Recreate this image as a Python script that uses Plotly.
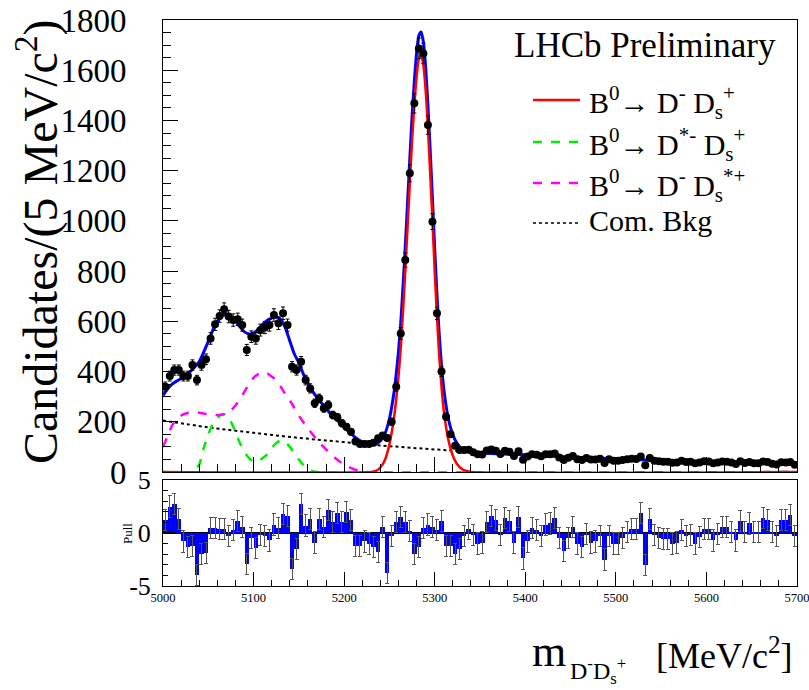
import numpy as np
import plotly.graph_objects as go

# ---------------- data ----------------
mass = np.arange(5002.5, 5700.0, 5.0)  # 5 MeV bin centres

candidates = [
    340, 382, 406, 406, 382, 382, 426, 366, 426, 449,
    532, 588, 621, 648, 619, 605, 608, 585, 486, 539,
    532, 565, 575, 585, 625, 592, 632, 585, 419, 406,
    439, 366, 333, 274, 293, 254, 267, 227, 218, 194,
    180, 160, 121, 112, 112, 112, 117, 134,
    145, 135, 200, 340, 552, 844, 1190, 1468, 1687, 1667,
    1382, 997, 632, 400, 220, 150, 105,
    88, 88, 89, 79, 71, 70, 86, 90, 85, 72,
    85, 81, 64, 83, 49, 62, 71, 69, 63, 71,
    71, 74, 58, 48, 57, 64, 51, 48, 56, 50,
    50, 53, 36, 51, 45, 45, 48, 51, 53, 52,
    62, 27, 56, 45, 43, 41, 41, 37, 38, 45,
    40, 41, 35, 38, 43, 42, 35, 38, 42, 41,
    38, 32, 43, 36, 40, 35, 35, 42, 40, 33,
    30, 39, 38, 40, 29,
]

pulls = [
    1.2, 2.5, 2.7, 1.3, -0.8, -1.3, -1.2, -4.0, -2.0, -1.9,
    0.5, 0.5, 0.4, 0.4, -0.3, 0.3, 1.1, 0.6, -2.9, -0.5,
    -1.4, -0.2, -0.3, -0.7, 0.8, 0.5, 1.8, 1.6, -3.4, -1.5,
    2.7, 0.7, 1.3, -0.9, 1.3, 0.6, 2.2, 1.0, 1.9, 1.0,
    2.0, 1.2, -1.2, -1.2, -0.8, -1.0, -1.3, -1.8, 0.6, -3.8,
    -0.3, 1.0, 1.5, 1.0, 0.2, -2.0, -1.3, 0.5, 0.8, 0.6,
    0.3, 1.1, -1.2, -1.2, -2.0, -1.5, -0.3, 0.4, -0.2, -1.0,
    -0.9, 1.0, 1.6, 1.2, -0.2, 1.4, 1.1, -0.9, 1.5, -2.4,
    -0.8, 0.5, 0.3, -0.3, 0.8, 0.9, 1.4, -0.5, -1.7, -0.5,
    0.6, -1.0, -1.3, -0.1, -0.9, -0.8, -0.3, -2.5, -0.3, -1.0,
    -1.0, -0.5, 0.1, 0.4, 0.4, 1.9, -3.0, 1.3, -0.2, -0.5,
    -0.6, -0.6, -1.0, -0.9, 0.3, -0.3, -0.2, -1.0, -0.4, 0.4,
    0.4, -0.7, -0.1, 0.6, 0.6, 0.1, -0.7, 1.1, 0.1, 0.9,
    0.1, 0.1, 1.4, 1.2, 0.1, -0.3, 1.2, 1.2, 1.7, -0.3,
]

# total fit (blue)
total_mass = [
    5000, 5005, 5010, 5015, 5020, 5025, 5030, 5035, 5040, 5045,
    5050, 5055, 5060, 5065, 5070, 5075, 5080, 5085, 5090, 5095,
    5100, 5105, 5110, 5115, 5120, 5125, 5130, 5135, 5140, 5145,
    5150, 5155, 5160, 5165, 5170, 5175, 5180, 5185, 5190, 5195,
    5200, 5205, 5210, 5215, 5220, 5225, 5230, 5235, 5240, 5245,
    5250, 5255, 5257.5, 5260, 5262.5, 5265, 5267.5, 5270, 5272.5, 5275,
    5277.5, 5280, 5282.5, 5285, 5287.5, 5290, 5292.5, 5295, 5297.5, 5300,
    5302.5, 5305, 5307.5, 5310, 5315, 5320, 5325, 5330, 5335, 5340,
    5350, 5400, 5450, 5500, 5550, 5600, 5650, 5700,
]
total_fit = [
    305, 330, 350, 362, 372, 385, 400, 418, 440, 478,
    520, 565, 600, 622, 630, 620, 600, 578, 558, 550,
    553, 568, 588, 603, 613, 617, 608, 575, 522, 470,
    435, 390, 355, 322, 297, 275, 253, 232, 214, 196,
    178, 161, 145, 131, 120, 113, 110, 112, 124, 152,
    212, 316, 390, 480, 594, 738, 897, 1072, 1246, 1415,
    1555, 1669, 1738, 1752, 1712, 1611, 1460, 1280, 1089, 888,
    707, 547, 426, 331, 214, 148, 112, 93, 84, 79,
    76, 68.3, 60, 52.3, 45.6, 39.8, 34.7, 30.2,
]

# B0 -> D- Ds+ (red)
sig_mass = [
    5000, 5230, 5235, 5240, 5245, 5250, 5255, 5257.5, 5260, 5262.5,
    5265, 5267.5, 5270, 5272.5, 5275, 5277.5, 5280, 5282.5, 5285, 5287.5,
    5290, 5292.5, 5295, 5297.5, 5300, 5302.5, 5305, 5307.5, 5310, 5315,
    5320, 5325, 5330, 5335, 5340, 5700,
]
sig_fit = [
    0, 0, 4, 18, 48, 110, 215, 290, 380, 495,
    640, 800, 975, 1150, 1320, 1460, 1575, 1645, 1660, 1620,
    1520, 1370, 1190, 1000, 800, 620, 460, 340, 245, 130,
    65, 30, 12, 4, 0, 0,
]

# B0 -> D*- Ds+ (green)
dstar_mass = [
    5000, 5030, 5035, 5040, 5045, 5050, 5055, 5060, 5065, 5070,
    5075, 5080, 5085, 5090, 5095, 5100, 5105, 5110, 5115, 5120,
    5125, 5130, 5135, 5140, 5145, 5150, 5155, 5160, 5165, 5170,
    5700,
]
dstar_fit = [
    0, 0, 8, 30, 95, 150, 190, 215, 230, 228,
    200, 160, 115, 80, 55, 42, 45, 55, 70, 95,
    115, 125, 120, 100, 75, 50, 28, 12, 3, 0,
    0,
]

# B0 -> D- Ds*+ (magenta)
dsstar_mass = [
    5000, 5005, 5010, 5015, 5020, 5025, 5030, 5035, 5040, 5045,
    5050, 5055, 5060, 5065, 5070, 5075, 5080, 5085, 5090, 5095,
    5100, 5105, 5110, 5115, 5120, 5125, 5130, 5135, 5140, 5145,
    5150, 5155, 5160, 5165, 5170, 5175, 5180, 5185, 5190, 5195,
    5200, 5205, 5210, 5215, 5220, 5225, 5700,
]
dsstar_fit = [
    100, 142, 185, 210, 225, 233, 237, 238, 236, 233,
    230, 228, 227, 228, 232, 245, 265, 290, 320, 350,
    375, 390, 397, 393, 380, 365, 340, 310, 285, 255,
    225, 198, 175, 150, 128, 108, 90, 72, 56, 42,
    30, 20, 12, 6, 2, 0, 0,
]

# combinatorial background (black dotted)
bkg_mass = [5000, 5050, 5100, 5150, 5200, 5250, 5300, 5350, 5400, 5450,
            5500, 5550, 5600, 5650, 5700]
bkg_fit = [205, 178, 156, 136, 119, 103, 90, 79, 69, 60,
           52, 45.5, 40, 35, 30.5]

legend_labels = [
    "B<sup>0</sup>→ D<sup>-</sup> D<sub>s</sub><sup>+</sup>",
    "B<sup>0</sup>→ D<sup>*-</sup> D<sub>s</sub><sup>+</sup>",
    "B<sup>0</sup>→ D<sup>-</sup> D<sub>s</sub><sup>*+</sup>",
    "Com. Bkg",
]

FONT = "Liberation Serif"
C_SIG, C_DST, C_DSST, C_BKG, C_TOT = "#ff0000", "#00ee00", "#ff00ff", "black", "#0000ff"

# ---------------- figure ----------------
fig = go.Figure()

fig.add_trace(go.Scatter(
    x=bkg_mass, y=bkg_fit, mode="lines", name="Com. Bkg", showlegend=False,
    line=dict(color=C_BKG, width=2, dash="dot", shape="spline"),
    xaxis="x", yaxis="y"))
fig.add_trace(go.Scatter(
    x=dstar_mass, y=dstar_fit, mode="lines", name=legend_labels[1], showlegend=False,
    line=dict(color=C_DST, width=2.5, dash="dash", shape="spline", smoothing=0.8),
    xaxis="x", yaxis="y"))
fig.add_trace(go.Scatter(
    x=dsstar_mass, y=dsstar_fit, mode="lines", name=legend_labels[2], showlegend=False,
    line=dict(color=C_DSST, width=2.5, dash="dash", shape="spline", smoothing=0.8),
    xaxis="x", yaxis="y"))
fig.add_trace(go.Scatter(
    x=total_mass, y=total_fit, mode="lines", name="Total fit", showlegend=False,
    line=dict(color=C_TOT, width=3, shape="spline", smoothing=0.6),
    xaxis="x", yaxis="y"))
fig.add_trace(go.Scatter(
    x=sig_mass, y=sig_fit, mode="lines", name=legend_labels[0], showlegend=False,
    line=dict(color=C_SIG, width=2.5, shape="spline", smoothing=0.6),
    xaxis="x", yaxis="y"))
fig.add_trace(go.Scatter(
    x=mass, y=candidates, mode="markers", name="Data", showlegend=False,
    marker=dict(color="black", size=8),
    error_y=dict(type="data", array=np.sqrt(np.array(candidates, dtype=float)),
                 color="black", thickness=1, width=2),
    xaxis="x", yaxis="y"))

# pull panel
fig.add_trace(go.Bar(
    x=mass, y=pulls, width=5, name="Pull", showlegend=False,
    marker=dict(color="#0000ff", line=dict(width=0)),
    error_y=dict(type="constant", value=1, color="#555555", thickness=1, width=2),
    xaxis="x2", yaxis="y2"))

ax_common = dict(showgrid=False, zeroline=False, showline=True, linecolor="black",
                 linewidth=1, mirror=True, automargin=False)

fig.update_layout(
    width=809, height=690,
    margin=dict(l=163, r=12, t=20, b=104),
    paper_bgcolor="white", plot_bgcolor="white",
    font=dict(family=FONT, color="black"),
    showlegend=False,
    bargap=0,
    xaxis=dict(domain=[0, 1], anchor="y", range=[5000, 5700],
               showticklabels=False, ticks="inside", ticklen=15, tick0=5000, dtick=100,
               minor=dict(dtick=20, ticklen=8, ticks="inside", tickcolor="black"),
               tickcolor="black", **ax_common),
    yaxis=dict(domain=[0.2014, 1], anchor="x", range=[0, 1800],
               ticks="inside", ticklen=15, dtick=200, tick0=0,
               minor=dict(dtick=50, ticklen=8, ticks="inside", tickcolor="black"),
               tickcolor="black", tickfont=dict(family=FONT, size=33),
               ticklabelstandoff=29, **ax_common),
    xaxis2=dict(domain=[0, 1], anchor="y2", range=[5000, 5700],
                ticks="inside", ticklen=14, tick0=5000, dtick=100,
                minor=dict(dtick=20, ticklen=6, ticks="inside", tickcolor="black"),
                tickcolor="black", tickfont=dict(family=FONT, size=12.5),
                ticklabeloverflow="allow",
                **ax_common),
    yaxis2=dict(domain=[0, 0.1873], anchor="x2", range=[-5, 5],
                tickvals=[-5, 0, 5], ticktext=["-5", "0", "5"],
                ticks="inside", ticklen=12,
                minor=dict(dtick=1, ticklen=5, ticks="inside", tickcolor="black"),
                tickcolor="black", tickfont=dict(family=FONT, size=26),
                ticklabelstandoff=6, automargin=False,
                showgrid=False, showline=True, linecolor="black", linewidth=1, mirror=True,
                zeroline=True, zerolinecolor="black", zerolinewidth=2),
)

# legend drawn as line samples + labels (paper coordinates)
leg_y = [0.8587, 0.7845, 0.7120, 0.6413]
leg_dy = [-0.004, -0.004, -0.004, 0.004]
leg_style = [dict(color=C_SIG, width=2.5, dash="solid"),
             dict(color=C_DST, width=2.5, dash="dash"),
             dict(color=C_DSST, width=2.5, dash="dash"),
             dict(color=C_BKG, width=1.5, dash="dot")]
shapes = []
annotations = []
for yy, dy, st, lab in zip(leg_y, leg_dy, leg_style, legend_labels):
    shapes.append(dict(type="line", xref="paper", yref="paper",
                       x0=0.5836, x1=0.6577, y0=yy, y1=yy, line=st))
    annotations.append(dict(text=lab, x=0.669, y=yy + dy, xref="paper", yref="paper",
                            xanchor="left", yanchor="middle", showarrow=False,
                            font=dict(family=FONT, size=30)))

annotations += [
    dict(text="Candidates/(5 MeV/c<sup>2</sup>)", textangle=-90,
         x=-0.197, y=0.6078, xref="paper", yref="paper",
         xanchor="center", yanchor="middle", showarrow=False,
         font=dict(family=FONT, size=48)),
    dict(text="LHCb Preliminary", x=0.7603, y=0.9558, xref="paper", yref="paper",
         xanchor="center", yanchor="middle", showarrow=False,
         font=dict(family=FONT, size=35)),
    dict(text="Pull", textangle=-90, x=-0.0568, y=0.0936, xref="paper", yref="paper",
         xanchor="center", yanchor="middle", showarrow=False,
         font=dict(family=FONT, size=13)),
    dict(text="m", x=0.6088, y=-0.1166, xref="paper", yref="paper",
         xanchor="center", yanchor="middle", showarrow=False,
         font=dict(family=FONT, size=44)),
    dict(text="D<sup>-</sup>D<sub>s</sub><sup>+</sup>", x=0.6388, y=-0.150,
         xref="paper", yref="paper", xanchor="left", yanchor="middle", showarrow=False,
         font=dict(family=FONT, size=24)),
    dict(text="[MeV/c<sup>2</sup>]", x=0.9968, y=-0.1184, xref="paper", yref="paper",
         xanchor="right", yanchor="middle", showarrow=False,
         font=dict(family=FONT, size=36)),
]
fig.update_layout(annotations=annotations, shapes=shapes)

fig.write_html("out.html", config={"displayModeBar": False},
               post_script="document.body.style.margin='0';document.body.style.padding='0';")
